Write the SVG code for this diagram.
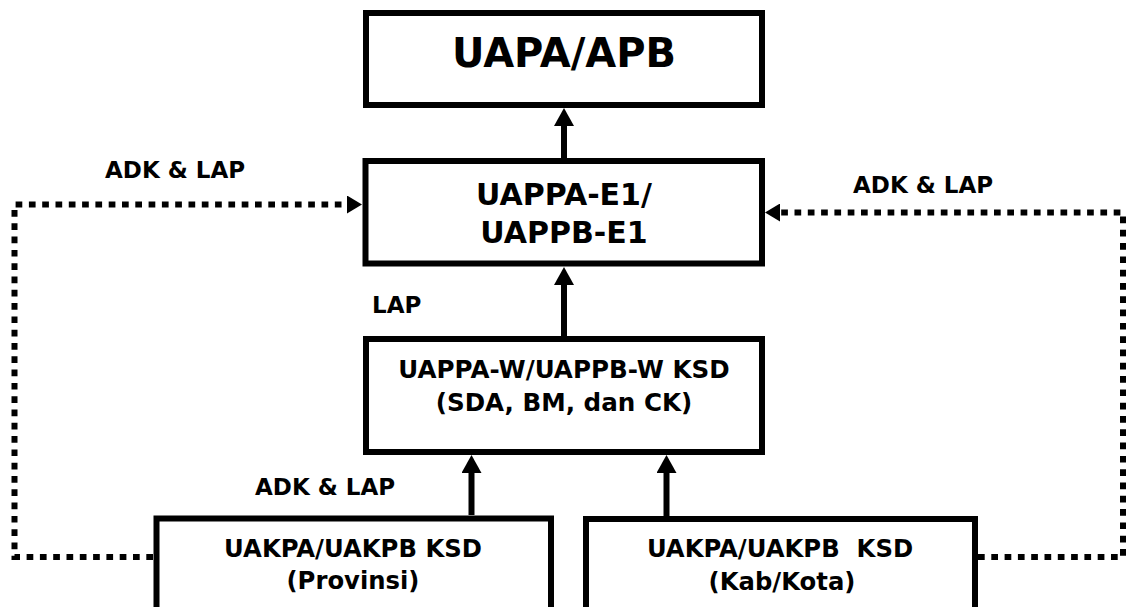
<svg xmlns="http://www.w3.org/2000/svg" width="1132" height="607" viewBox="0 0 1132 607">
<style>
.box{fill:#fff;stroke:#000;stroke-width:6}
.t{font-family:"DejaVu Sans",Verdana,sans-serif;font-weight:bold;fill:#000;white-space:pre}
.c{text-anchor:middle}
.solid{fill:none;stroke:#000;stroke-width:6}
.dot{fill:none;stroke:#000;stroke-width:6;stroke-dasharray:6.7 6.6}
</style>
<defs>
<marker id="ah" markerUnits="userSpaceOnUse" markerWidth="18" markerHeight="20" refX="0" refY="10" orient="auto" viewBox="0 0 18 20">
<path d="M0,0 L18,10 L0,20 z" fill="#000"/>
</marker>
<marker id="ahd" markerUnits="userSpaceOnUse" markerWidth="15" markerHeight="18" refX="0" refY="9" orient="auto" viewBox="0 0 15 18">
<path d="M0,0 L15,9 L0,18 z" fill="#000"/>
</marker>
</defs>
<rect width="1132" height="607" fill="#fff"/>
<g id="connectors">
<path class="solid" d="M564,158 V126" marker-end="url(#ah)"/>
<path class="solid" d="M564,336 V285" marker-end="url(#ah)"/>
<path class="solid" d="M471.5,515 V473" marker-end="url(#ah)"/>
<path class="solid" d="M666.5,516 V473" marker-end="url(#ah)"/>
<path class="dot" d="M153,557 H14.5 V204.5 H347" marker-end="url(#ahd)"/>
<path class="dot" d="M978,557 H1123 V212.5 H780" marker-end="url(#ahd)"/>
<text class="t" x="105" y="178" font-size="23">ADK &amp; LAP</text>
<text class="t" x="853" y="193" font-size="23">ADK &amp; LAP</text>
<text class="t" x="372" y="313" font-size="23">LAP</text>
<text class="t" x="255" y="495" font-size="23">ADK &amp; LAP</text>
</g>
<g id="n1">
<rect class="box" x="366" y="13" width="396" height="92"/>
<text class="t c" x="564" y="67" font-size="40">UAPA/APB</text>
</g>
<g id="n2">
<rect class="box" x="365.5" y="161" width="396.5" height="102.5"/>
<text class="t c" x="564" y="205" font-size="30">UAPPA-E1/</text>
<text class="t c" x="564" y="243" font-size="30">UAPPB-E1</text>
</g>
<g id="n3">
<rect class="box" x="366" y="339" width="396" height="113"/>
<text class="t c" x="564" y="378" font-size="24.6">UAPPA-W/UAPPB-W KSD</text>
<text class="t c" x="564" y="411" font-size="24.6">(SDA, BM, dan CK)</text>
</g>
<g id="n4">
<path class="box" d="M156.5,612 V518.5 H551 V612"/>
<text class="t c" x="353" y="557" font-size="24.3">UAKPA/UAKPB KSD</text>
<text class="t c" x="353" y="589" font-size="24.3">(Provinsi)</text>
</g>
<g id="n5">
<path class="box" d="M586,612 V519 H975 V612"/>
<text class="t c" x="780" y="557" font-size="24.3">UAKPA/UAKPB  KSD</text>
<text class="t c" x="782" y="590" font-size="24.3">(Kab/Kota)</text>
</g>
</svg>
